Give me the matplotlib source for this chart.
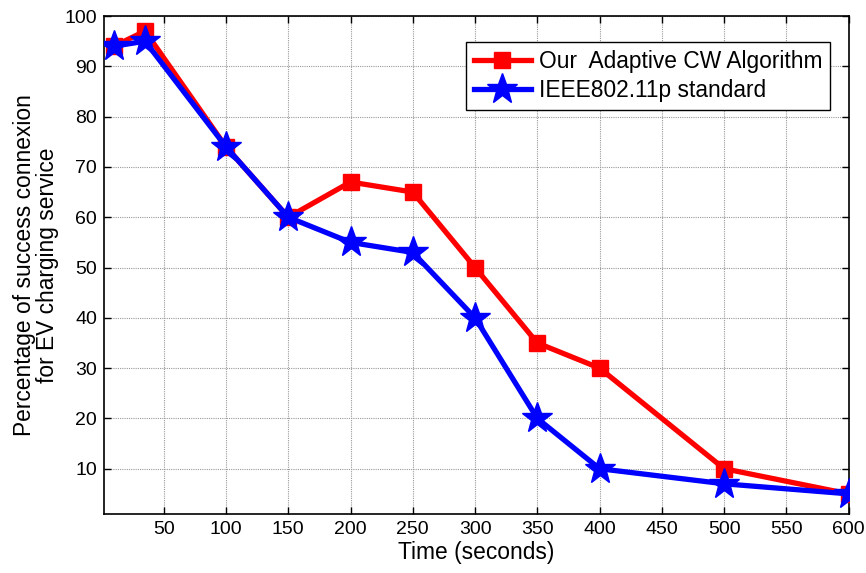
import matplotlib
matplotlib.use("Agg")
import matplotlib.pyplot as plt

time_x = [10, 35, 100, 150, 200, 250, 300, 350, 400, 500, 600]
adaptive_cw = [94, 97, 74, 60, 67, 65, 50, 35, 30, 10, 5]
ieee80211p = [94, 95, 74, 60, 55, 53, 40, 20, 10, 7, 5]
x_ticks = [50, 100, 150, 200, 250, 300, 350, 400, 450, 500, 550, 600]
y_ticks = [10, 20, 30, 40, 50, 60, 70, 80, 90, 100]

plt.rcParams['font.family'] = ['Liberation Sans', 'DejaVu Sans']

fig = plt.figure(figsize=(8.66, 5.73), dpi=100)
ax = fig.add_axes([0.120, 0.103, 0.860, 0.869])

ax.plot(time_x, adaptive_cw, color='red', lw=3.8, marker='s', markersize=12,
        label='Our  Adaptive CW Algorithm', zorder=3)
ax.plot(time_x, ieee80211p, color='blue', lw=3.8, marker='*', markersize=23,
        label='IEEE802.11p standard', zorder=4)

ax.set_xlim(2, 600)
ax.set_ylim(1, 100)
ax.set_xticks(x_ticks)
ax.set_yticks(y_ticks)
ax.tick_params(direction='in', top=True, right=True, labelsize=14, length=5, width=1, pad=5)
ax.grid(True, linestyle=(0, (1, 1)), color='#999999', linewidth=0.8)
for s in ax.spines.values():
    s.set_linewidth(1.2)

ax.set_xlabel('Time (seconds)', fontsize=16.4, labelpad=2)
ax.set_ylabel('Percentage of success connexion\nfor EV charging service', fontsize=16.4,
              labelpad=4, linespacing=1.0)

leg = ax.legend(loc='upper right', bbox_to_anchor=(0.975, 0.948), borderaxespad=0,
                fontsize=16.4, frameon=True, fancybox=False, edgecolor='black',
                framealpha=1, borderpad=0.35, handlelength=2.5, labelspacing=0.25,
                handletextpad=0.35)
leg.get_frame().set_linewidth(1.0)

fig.savefig('out.png', dpi=100)
